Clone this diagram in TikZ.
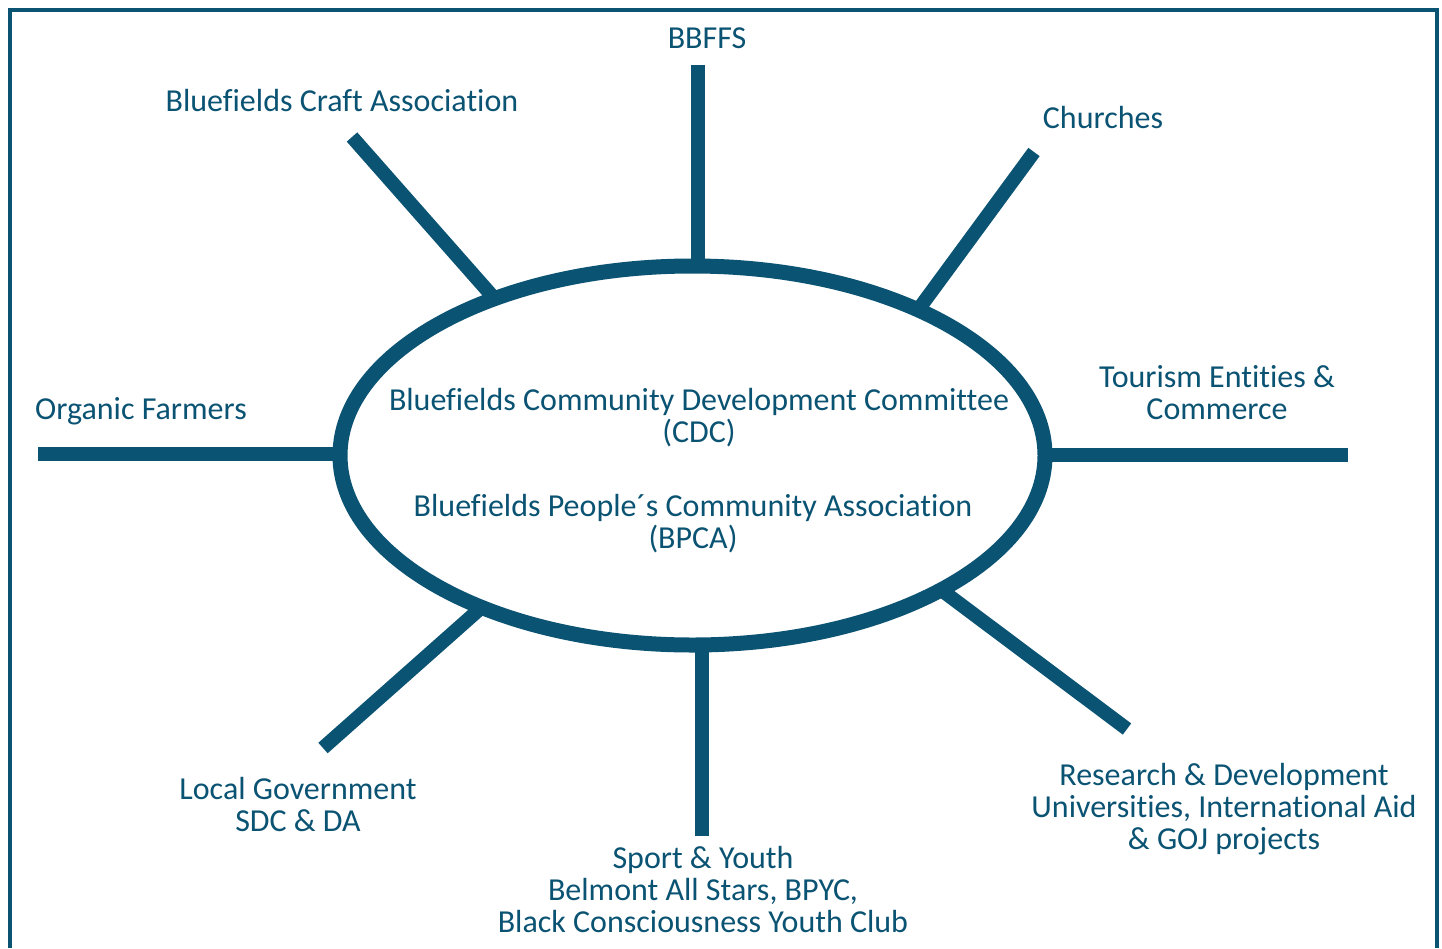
\documentclass[tikz,border=0pt]{standalone}
\usepackage{fontspec}
\setmainfont{Carlito}[Ligatures=NoCommon]
\usetikzlibrary{shapes.geometric}
\definecolor{bfblue}{HTML}{0B5373}
\begin{document}
\begin{tikzpicture}[x=1pt,y=-1pt,
  spoke/.style={draw=bfblue,line width=14pt},
  lbl/.style={text=bfblue,font=\fontsize{32}{32}\selectfont,align=center,inner sep=0pt}]
\useasboundingbox[fill=white] (0,0) rectangle (1442,948);
% frame (open at bottom)
\draw[bfblue,line width=4pt] (9.5,948) -- (9.5,9.5) -- (1436.5,9.5) -- (1436.5,948);
% central ellipse
\node[ellipse,draw=bfblue,line width=15pt,minimum width=705pt,minimum height=379pt,inner sep=0pt] (e) at (692.5,455.5) {};
% spoke end coordinates
\coordinate (tO) at (698,65);    \coordinate (tI) at (698,268);
\coordinate (ulO) at (352,137);  \coordinate (ulI) at (494,298);
\coordinate (urO) at (1034,152); \coordinate (urI) at (918,310);
\coordinate (lO) at (38,454);    \coordinate (lI) at (341,454);
\coordinate (rO) at (1348,455);  \coordinate (rI) at (1044,455);
\coordinate (llO) at (323,748);  \coordinate (llI) at (482,607);
\coordinate (bO) at (702,836);   \coordinate (bI) at (702,643);
\coordinate (lrO) at (1127,729); \coordinate (lrI) at (944,592);
\draw[spoke] (tI) -- (tO);
\draw[spoke] (ulI) -- (ulO);
\draw[spoke] (urI) -- (urO);
\draw[spoke] (lI) -- (lO);
\draw[spoke] (rI) -- (rO);
\draw[spoke] (llI) -- (llO);
\draw[spoke] (bI) -- (bO);
\draw[spoke] (lrI) -- (lrO);
% labels
\node[lbl] (bbffs) at (707,38) {BBFFS};
\node[lbl] (craft) at (342,101) {Bluefields Craft Association};
\node[lbl] (church) at (1103,118) {Churches};
\node[lbl,anchor=west] (organic) at (35,411) {Organic Farmers};
\node[lbl] (tour) at (1217,393) {Tourism Entities \&\\Commerce};
\node[lbl] (cdc) at (699,418) {Bluefields Community Development Committee\\(CDC)};
\node[lbl] (bpca) at (693,524) {Bluefields People´s Community Association\\(BPCA)};
\node[lbl] (local) at (298,804) {Local Government\\SDC \& DA};
\node[lbl] (sport) at (703,889) {Sport \& Youth\\Belmont All Stars, BPYC,\\Black Consciousness Youth Club};
\node[lbl] (research) at (1224,809) {Research \& Development\\Universities, International Aid\\\& GOJ projects};
\end{tikzpicture}
\end{document}
